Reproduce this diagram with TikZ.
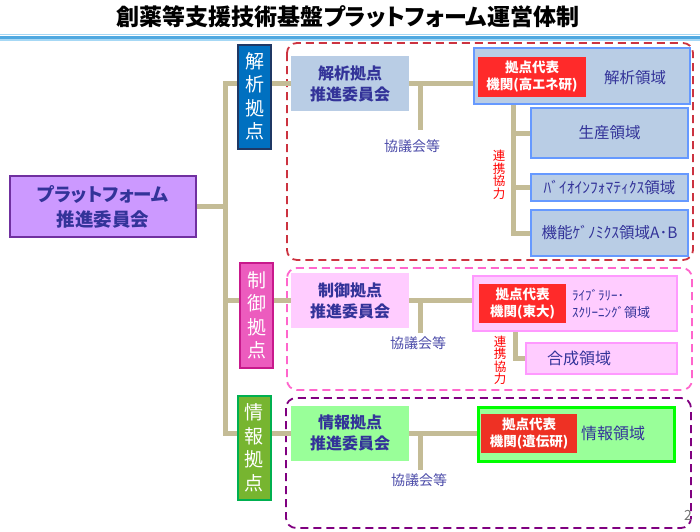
\documentclass[tikz,border=0pt]{standalone}
\usepackage{fontspec}
\setmainfont{Noto Sans CJK JP}[RawFeature=+palt]
\usepackage{tikz}
\usetikzlibrary{positioning}
\pgfdeclarelayer{back}
\pgfsetlayers{back,main}

\definecolor{navy}{HTML}{333399}
\definecolor{tan}{HTML}{C4BC96}
\definecolor{barlight}{HTML}{A6D8F5}
\definecolor{bardark}{HTML}{4FA8E0}
\definecolor{platfill}{HTML}{CC99FF}
\definecolor{platedge}{HTML}{7030A0}
\definecolor{kaiseki}{HTML}{B9CDE5}
\definecolor{kaisekiedge}{HTML}{6699FF}
\definecolor{seigyo}{HTML}{FFCCFF}
\definecolor{seigyoedge}{HTML}{FF99FF}
\definecolor{joho}{HTML}{99FF99}
\definecolor{johoedge}{HTML}{00FF00}
\definecolor{pilblue}{HTML}{0070C0}
\definecolor{pilblueedge}{HTML}{1F3864}
\definecolor{pilpink}{HTML}{EC5CBE}
\definecolor{pilpinkedge}{HTML}{C8198C}
\definecolor{pilgreen}{HTML}{77B530}
\definecolor{pilgreenedge}{HTML}{00B050}
\definecolor{frameA}{HTML}{CC3340}
\definecolor{frameC}{HTML}{FF66CC}
\definecolor{frameI}{HTML}{800080}
\definecolor{repred}{HTML}{FF2A2A}
\definecolor{repredI}{HTML}{EE3124}
\definecolor{meetblue}{HTML}{4A4AA8}

\begin{document}
\begin{tikzpicture}[
  x=1pt, y=-1pt,
  link/.style={draw=tan, line width=5pt},
  frame/.style={dash pattern=on 8pt off 5pt, line width=1.8pt, rounded corners=10pt},
  pillar/.style={draw, line width=2pt, minimum width=33pt, minimum height=104pt, inner sep=0pt,
    text=white, align=center, font=\fontsize{19}{23.5}\selectfont},
  comm/.style={minimum width=118pt, minimum height=55pt, inner sep=0pt, align=center, text=navy,
    font=\bfseries\fontsize{16}{21}\selectfont},
  field/.style={line width=2pt, inner sep=0pt, text=navy, font=\fontsize{15.5}{18}\selectfont},
  fieldtxt/.style={inner sep=0pt, text=navy, font=\fontsize{15.5}{18}\selectfont},
  rep/.style={inner sep=0pt, align=center, text=white, font=\bfseries\fontsize{13.5}{17}\selectfont},
  meet/.style={inner sep=1pt, text=meetblue, font=\fontsize{14}{16}\selectfont},
  coop/.style={inner sep=0pt, align=center, text=red, font=\fontsize{12.5}{12.5}\selectfont}
]
\useasboundingbox (0,0) rectangle (700,531);

% title and bar
\node[font=\bfseries\fontsize{23}{25}\selectfont] (title) at (348,17) {創薬等支援技術基盤プラットフォーム運営体制};
\draw[barlight, line width=1.5pt] (0,34.5) -- (700,34.5);
\draw[bardark, line width=2.5pt] (0,37.5) -- (700,37.5);
\draw[barlight, line width=1.5pt] (0,40.2) -- (700,40.2);

% platform committee
\node[draw=platedge, fill=platfill, line width=2pt, minimum width=186pt, minimum height=61pt,
  align=center, text=navy, font=\bfseries\fontsize{18.5}{25}\selectfont] (plat) at (103,206.5)
  {プラットフォーム\\推進委員会};

% pillars
\node[pillar, draw=pilblueedge, fill=pilblue] (pilA) at (254.5,96.5) {解\\析\\拠\\点};
\node[pillar, draw=pilpinkedge, fill=pilpink, minimum height=105pt] (pilC) at (256.5,315.5) {制\\御\\拠\\点};
\node[pillar, draw=pilgreenedge, fill=pilgreen] (pilI) at (254,448) {情\\報\\拠\\点};

% committees of the sites
\node[comm, fill=kaiseki] (comA) at (350,83.5) {解析拠点\\推進委員会};
\node[comm, fill=seigyo] (comC) at (350,300.5) {制御拠点\\推進委員会};
\node[comm, fill=joho] (comI) at (350,433) {情報拠点\\推進委員会};

% analysis
\node[field, draw=kaisekiedge, fill=kaiseki, minimum width=216pt, minimum height=56pt] (regA) at (582,76) {};
\node[rep, fill=repred, minimum width=108pt, minimum height=40pt] (repA) at (532,77) {拠点代表\\機関(高エネ研)};
\node[fieldtxt] (txtA) at (635,78) {解析領域};
\node[field, draw=kaisekiedge, fill=kaiseki, minimum width=157pt, minimum height=50pt] (prodA) at (609.5,133) {生産領域};
\node[field, draw=kaisekiedge, fill=kaiseki, minimum width=157pt, minimum height=27pt] (bioA) at (609.5,187.5) {ﾊﾞｲｵｲﾝﾌｫﾏﾃｨｸｽ領域};
\node[field, draw=kaisekiedge, fill=kaiseki, minimum width=157pt, minimum height=46pt] (fncA) at (609.5,233) {機能ｹﾞﾉﾐｸｽ領域A･B};
\node[coop] (coopA) at (499,175) {連\\携\\協\\力};

% control
\node[field, draw=seigyoedge, fill=seigyo, minimum width=204pt, minimum height=55pt] (regC) at (575,303.5) {};
\node[rep, fill=repred, minimum width=87pt, minimum height=39pt] (repC) at (522.5,303.5) {拠点代表\\機関(東大)};
\node[fieldtxt, anchor=west, align=left, font=\fontsize{13}{17}\selectfont] (txtC) at (572,303.5) {ﾗｲﾌﾞﾗﾘｰ･\\ｽｸﾘｰﾆﾝｸﾞ領域};
\node[field, draw=seigyoedge, fill=seigyo, minimum width=151pt, minimum height=31pt,
  text width=109pt, inner xsep=21pt, align=left, font=\fontsize{16}{18}\selectfont] (synC) at (601.5,358.5) {合成領域};
\node[coop] (coopC) at (500,360.5) {連\\携\\協\\力};

% information
\node[field, draw=johoedge, fill=joho, line width=3pt, minimum width=196pt, minimum height=54pt] (regI) at (576,434) {};
\node[rep, fill=repredI, minimum width=96pt, minimum height=39pt] (repI) at (529,433.5) {拠点代表\\機関(遺伝研)};
\node[fieldtxt, font=\fontsize{16}{18}\selectfont] (txtI) at (613,433) {情報領域};

% councils
\coordinate (dropA) at (420,130);
\coordinate (dropC) at (420,333);
\coordinate (dropI) at (420,470);
\node[meet, below=8pt of dropA, xshift=-8pt] (mtgA) {協議会等};
\node[meet, below=2pt of dropC, xshift=-2pt] (mtgC) {協議会等};
\node[meet, below=2pt of dropI, xshift=-1pt] (mtgI) {協議会等};

\node[text=gray!90!black, font=\fontsize{14}{14}\selectfont] (pgno) at (688,515) {2};

\begin{pgfonlayer}{back}
\draw[frame, draw=frameA] (287,43) rectangle (693,260);
\draw[frame, draw=frameC] (287,268) rectangle (692,390);
\draw[frame, draw=frameI] (286,398) rectangle (691,528);

\coordinate (jx) at (225,0);
\draw[link] (comA.west) -| (comI.west -| jx) -- (comI.west);
\draw[link] (comC.west -| jx) -- (comC.west);
\draw[link] (plat.east) -- (plat.east -| jx);

\draw[link] (comA.east) -- (comA.east -| regA.west);
\draw[link] (comC.east) -- (comC.east -| regC.west);
\draw[link] (comI.east) -- (comI.east -| regI.west);
\draw[link] (dropA |- comA.east) -- (dropA);
\draw[link] (dropC |- comC.east) -- (dropC);
\draw[link] (dropI |- comI.east) -- (dropI);

\coordinate (subA) at (513,0);
\coordinate (subC) at (515,0);
\draw[link] (regA.south -| subA) |- (fncA.west);
\draw[link] (prodA.west -| subA) -- (prodA.west);
\draw[link] (bioA.west -| subA) -- (bioA.west);
\draw[link] (regC.south -| subC) |- (synC.west);
\end{pgfonlayer}
\end{tikzpicture}
\end{document}
